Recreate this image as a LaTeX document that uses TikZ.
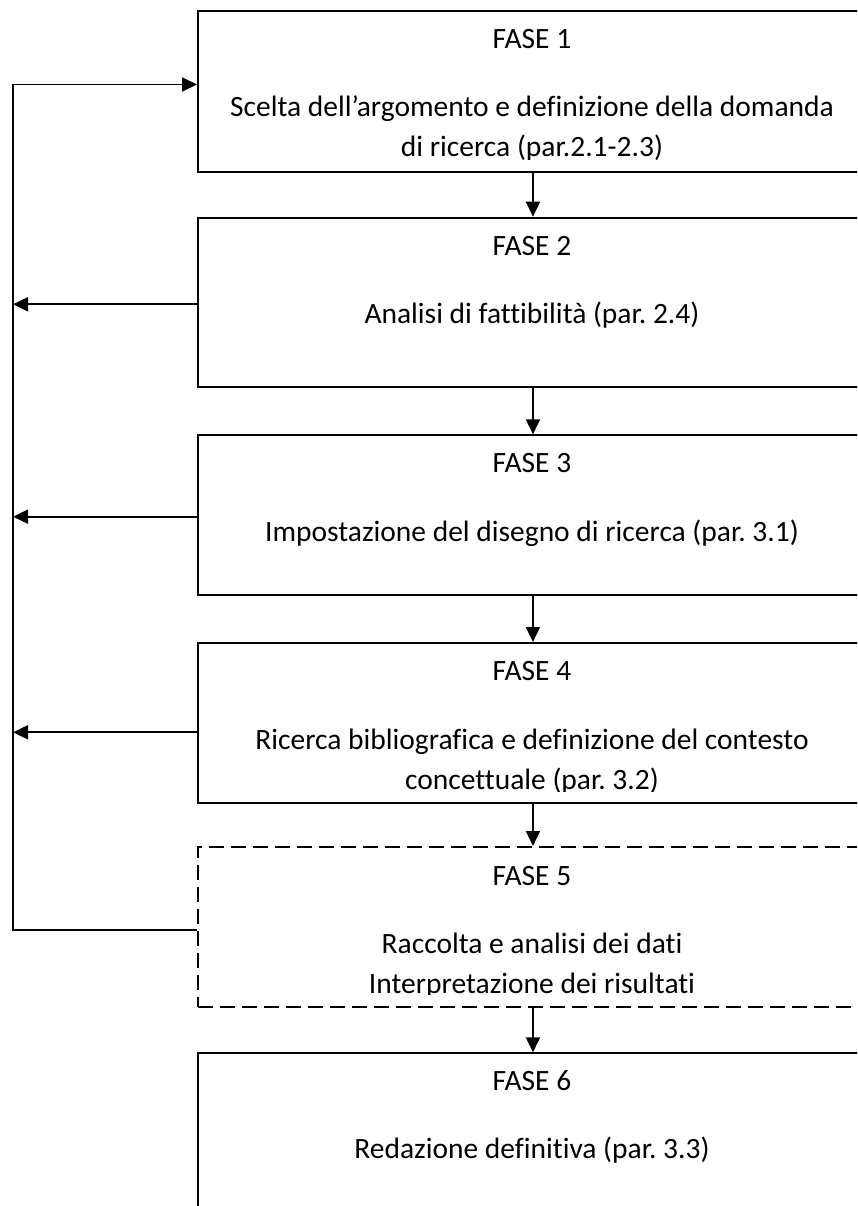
\documentclass[tikz,border=0pt]{standalone}
\usepackage{fontspec}
\setmainfont{Carlito}[Ligatures=NoCommon]
\usetikzlibrary{arrows.meta}
\frenchspacing
\tikzset{
  boxstyle/.style={draw=black, line width=1.9pt, rectangle, anchor=north west, minimum width=670pt, inner sep=0pt},
  dashbox/.style={boxstyle, dash pattern=on 15pt off 7pt},
  txt/.style={anchor=base, inner sep=0pt, font=\fontsize{29.5}{35}\selectfont},
  arr/.style={line width=1.9pt, -{Triangle[length=15pt,width=14pt]}},
  conn/.style={line width=1.9pt},
}
\begin{document}
\begin{tikzpicture}[x=1pt,y=-1pt]
\useasboundingbox (0,0) rectangle (857,1206);
\clip (0,0) rectangle (857,1206);
\fill[white] (0,0) rectangle (857,1206);
% boxes
\node[boxstyle, minimum height=160.2pt] (f1) at (197,10.5) {};
\node[boxstyle, minimum height=169.3pt] (f2) at (197,216.7) {};
\node[boxstyle, minimum height=159.7pt] (f3) at (197,434.3) {};
\node[boxstyle, minimum height=160pt] (f4) at (197,642) {};
\node[dashbox, minimum height=160pt] (f5) at (197,846) {};
\node[boxstyle, minimum height=200pt] (f6) at (197,1052.3) {};
% texts
\node[txt] (t1a) at (532,49) {FASE 1};
\node[txt] (t1b) at (532,117) {Scelta dell’argomento e definizione della domanda};
\begin{scope}
\clip (197,100) rectangle (867,160);
\node[txt] (t1c) at (532,157) {di ricerca (par.2.1-2.3)};
\end{scope}
\node[txt] (t2a) at (532,255) {FASE 2};
\node[txt] (t2b) at (532,323) {Analisi di fattibilità (par. 2.4)};
\node[txt] (t3a) at (532,472.7) {FASE 3};
\node[txt] (t3b) at (532,541) {Impostazione del disegno di ricerca (par. 3.1)};
\node[txt] (t4a) at (532,680.7) {FASE 4};
\node[txt] (t4b) at (532,749.3) {Ricerca bibliografica e definizione del contesto};
\begin{scope}
\clip (197,760) rectangle (867,791);
\node[txt] (t4c) at (532,789) {concettuale (par. 3.2)};
\end{scope}
\node[txt] (t5a) at (532,885) {FASE 5};
\node[txt] (t5b) at (532,953) {Raccolta e analisi dei dati};
\begin{scope}
\clip (197,960) rectangle (867,994);
\node[txt] (t5c) at (532,993) {Interpretazione dei risultati};
\end{scope}
\node[txt] (t6a) at (532,1090) {FASE 6};
\node[txt] (t6b) at (532,1158.3) {Redazione definitiva (par. 3.3)};
% down arrows
\draw[arr] (f1.south) -- (f2.north);
\draw[arr] (f2.south) -- (f3.north);
\draw[arr] (f3.south) -- (f4.north);
\draw[arr] (f4.south) -- (f5.north);
\draw[arr] (f5.south) -- (f6.north);
% feedback loop
\coordinate (fb1) at (13,84.5);
\coordinate (fb2) at (13,304.3);
\coordinate (fb3) at (13,516.7);
\coordinate (fb4) at (13,732.3);
\coordinate (fb5) at (13,930);
\draw[conn] (f5.west |- fb5) -- (fb5) -- ([yshift=0.95pt]fb1);
\draw[arr] ([xshift=-0.95pt]fb1) -- (f1.west |- fb1);
\draw[arr] (f2.west |- fb2) -- (fb2);
\draw[arr] (f3.west |- fb3) -- (fb3);
\draw[arr] (f4.west |- fb4) -- (fb4);
\end{tikzpicture}
\end{document}
